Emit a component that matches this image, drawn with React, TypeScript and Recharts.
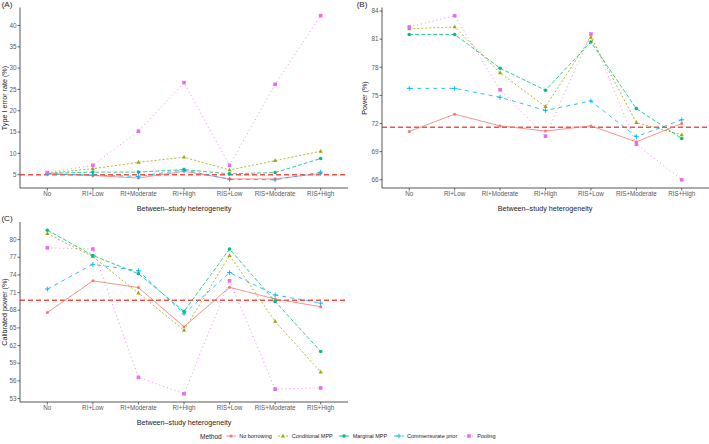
import React from "react";
import { LineChart, Line, XAxis, YAxis, ReferenceLine } from "recharts";

const categories = ["No", "RI+Low", "RI+Moderate", "RI+High", "RIS+Low", "RIS+Moderate", "RIS+High"];

// (A) Type I error rate (%)
const typeINoBorrowing = [5.2, 4.8, 4.2, 5.8, 4.0, 4.0, 5.3];
const typeIConditional = [5.3, 6.4, 7.9, 9.1, 6.1, 8.3, 10.5];
const typeIMarginal = [5.3, 5.6, 5.6, 6.2, 5.2, 5.5, 8.8];
const typeICommensurate = [5.2, 4.9, 4.6, 6.1, 3.9, 3.8, 5.6];
const typeIPooling = [5.5, 7.2, 15.2, 26.6, 7.2, 26.2, 42.3];

// (B) Power (%)
const powerNoBorrowing = [71.15, 73.0, 71.75, 71.2, 71.75, 70.05, 72.0];
const powerConditional = [82.1, 82.3, 77.4, 73.8, 81.2, 72.1, 70.8];
const powerMarginal = [81.5, 81.5, 77.9, 75.55, 80.7, 73.6, 70.4];
const powerCommensurate = [75.75, 75.75, 74.8, 73.4, 74.4, 70.6, 72.4];
const powerPooling = [82.3, 83.5, 75.6, 70.65, 81.55, 69.8, 66.0];

// (C) Calibrated power (%)
const calNoBorrowing = [67.6, 73.0, 71.85, 65.2, 71.9, 69.9, 68.6];
const calConditional = [81.0, 77.1, 70.9, 64.6, 77.3, 66.1, 57.5];
const calMarginal = [81.6, 77.3, 74.2, 67.8, 78.4, 69.5, 61.0];
const calCommensurate = [71.6, 75.8, 74.7, 67.4, 74.4, 70.6, 69.2];
const calPooling = [78.6, 78.4, 56.6, 53.8, 73.0, 54.6, 54.8];

const typeITicks = [5, 10, 15, 20, 25, 30, 35, 40];
const powerTicks = [66, 69, 72, 75, 78, 81, 84];
const calTicks = [53, 56, 59, 62, 65, 68, 71, 74, 77, 80];

const typeIRef = 5;
const powerRef = 71.6;
const calRef = 69.7;

const series = [
  { key: "nb", name: "No borrowing", color: "#F8766D", dash: undefined as string | undefined, shape: "dot" },
  { key: "cmpp", name: "Conditional MPP", color: "#A3A500", dash: "2 2", shape: "triangle" },
  { key: "mmpp", name: "Marginal MPP", color: "#00BF7D", dash: "4 2", shape: "circle" },
  { key: "comm", name: "Commensurate prior", color: "#00B0F6", dash: "4 4", shape: "plus" },
  { key: "pool", name: "Pooling", color: "#E76BF3", dash: "1 3", shape: "square" },
];

function buildRows(values: number[][]) {
  return categories.map((cat, i) => {
    const row: Record<string, string | number> = { cat };
    series.forEach((s, j) => {
      row[s.key] = values[j][i];
    });
    return row;
  });
}

const typeIData = buildRows([typeINoBorrowing, typeIConditional, typeIMarginal, typeICommensurate, typeIPooling]);
const powerData = buildRows([powerNoBorrowing, powerConditional, powerMarginal, powerCommensurate, powerPooling]);
const calData = buildRows([calNoBorrowing, calConditional, calMarginal, calCommensurate, calPooling]);

const FONT = '"Liberation Sans", Arial, sans-serif';

function Marker({ cx, cy, shape, color }: { cx?: number; cy?: number; shape: string; color: string }) {
  if (cx == null || cy == null) return null;
  switch (shape) {
    case "dot":
      return <circle cx={cx} cy={cy} r={1.5} fill={color} />;
    case "triangle":
      return <polygon points={`${cx},${cy - 2.3} ${cx - 2.1},${cy + 1.4} ${cx + 2.1},${cy + 1.4}`} fill={color} />;
    case "circle":
      return <circle cx={cx} cy={cy} r={1.8} fill={color} />;
    case "plus":
      return (
        <g stroke={color} strokeWidth={0.9}>
          <line x1={cx - 2.4} x2={cx + 2.4} y1={cy} y2={cy} />
          <line x1={cx} x2={cx} y1={cy - 2.4} y2={cy + 2.4} />
        </g>
      );
    default:
      return <rect x={cx - 1.8} y={cy - 1.8} width={3.6} height={3.6} fill={color} />;
  }
}

type PanelProps = {
  data: Record<string, string | number>[];
  domain: [number, number];
  ticks: number[];
  refValue: number;
  left: number;
  top: number;
  width: number;
  height: number;
  yWidth: number;
  right: number;
  marginTop: number;
  xHeight: number;
};

function Panel(p: PanelProps) {
  const plotW = p.width - p.yWidth - p.right;
  const pad = plotW / 12;
  return (
    <div style={{ position: "absolute", left: p.left, top: p.top }}>
      <LineChart
        width={p.width}
        height={p.height}
        data={p.data}
        margin={{ top: p.marginTop, right: p.right, left: 0, bottom: 0 }}
      >
        <XAxis
          dataKey="cat"
          interval={0}
          height={p.xHeight}
          padding={{ left: pad, right: pad }}
          tickSize={2.5}
          tickMargin={1}
          stroke="#444"
          axisLine={{ stroke: "#444", strokeWidth: 0.9 }}
          tickLine={{ stroke: "#444", strokeWidth: 0.8 }}
          tick={{ fontSize: 6.3, fill: "#5a5a5a", fontFamily: FONT }}
        />
        <YAxis
          type="number"
          domain={p.domain}
          ticks={p.ticks}
          width={p.yWidth}
          allowDataOverflow
          tickSize={2.5}
          tickMargin={1}
          stroke="#444"
          axisLine={{ stroke: "#444", strokeWidth: 0.9 }}
          tickLine={{ stroke: "#444", strokeWidth: 0.8 }}
          tick={{ fontSize: 6.3, fill: "#5a5a5a", fontFamily: FONT }}
        />
        <ReferenceLine y={p.refValue} stroke="#F2504B" strokeWidth={1.4} strokeDasharray="5 3" />
        {series.map((s) => (
          <Line
            key={s.key}
            dataKey={s.key}
            name={s.name}
            type="linear"
            stroke={s.color}
            strokeWidth={0.8}
            strokeDasharray={s.dash}
            isAnimationActive={false}
            dot={(d: any) => (
              <Marker key={`${s.key}-${d.index}`} cx={d.cx} cy={d.cy} shape={s.shape} color={s.color} />
            )}
            activeDot={false}
          />
        ))}
      </LineChart>
    </div>
  );
}

function Txt({ x, y, children, size = 7.2, rotate = false }: { x: number; y: number; children: React.ReactNode; size?: number; rotate?: boolean }) {
  return (
    <div
      style={{
        position: "absolute",
        left: x,
        top: y,
        transform: `translate(-50%, -50%)${rotate ? " rotate(-90deg)" : ""}`,
        whiteSpace: "nowrap",
        fontSize: size,
        fontFamily: FONT,
        color: "#222",
        lineHeight: 1,
      }}
    >
      {children}
    </div>
  );
}

function LegendKey({ color, dash, shape }: { color: string; dash?: string; shape: string }) {
  return (
    <svg width={10} height={8} style={{ display: "block" }}>
      <line x1={0} x2={10} y1={4} y2={4} stroke={color} strokeWidth={0.8} strokeDasharray={dash} />
      <Marker cx={5} cy={4} shape={shape} color={color} />
    </svg>
  );
}

export default function App() {
  return (
    <div style={{ position: "absolute", left: 0, top: 0, width: 709, height: 444, background: "#fff", overflow: "hidden" }}>
      <Panel data={typeIData} domain={[1.875, 44.225]} ticks={typeITicks} refValue={typeIRef}
        left={0} top={0} width={355} height={215} yWidth={20} right={7} marginTop={7.5} xHeight={27} />
      <Panel data={powerData} domain={[65.125, 84.375]} ticks={powerTicks} refValue={powerRef}
        left={355} top={0} width={354} height={215} yWidth={27} right={0} marginTop={7.5} xHeight={27} />
      <Panel data={calData} domain={[52.41, 82.99]} ticks={calTicks} refValue={calRef}
        left={0} top={214} width={355} height={216} yWidth={20} right={7} marginTop={8} xHeight={28} />

      <Txt x={7} y={5} size={8}>(A)</Txt>
      <Txt x={362} y={5} size={8}>(B)</Txt>
      <Txt x={7} y={219} size={8}>(C)</Txt>

      <Txt x={5} y={98} rotate>Type I error rate (%)</Txt>
      <Txt x={365} y={98} rotate>Power (%)</Txt>
      <Txt x={5} y={312} rotate>Calibrated power (%)</Txt>

      <Txt x={184} y={209}>Between–study heterogeneity</Txt>
      <Txt x={545} y={209}>Between–study heterogeneity</Txt>
      <Txt x={184} y={423}>Between–study heterogeneity</Txt>

      <div
        style={{
          position: "absolute",
          left: 200,
          top: 431,
          height: 10,
          display: "flex",
          alignItems: "center",
          fontFamily: FONT,
          whiteSpace: "nowrap",
          color: "#222",
        }}
      >
        <span style={{ fontSize: 6.5, marginRight: 4 }}>Method</span>
        {series.map((s, i) => (
          <div key={s.key} style={{ display: "flex", alignItems: "center", marginRight: i < series.length - 1 ? 6.4 : 0 }}>
            <LegendKey color={s.color} dash={s.dash} shape={s.shape} />
            <span style={{ fontSize: 5.5, marginLeft: 3.5 }}>{s.name}</span>
          </div>
        ))}
      </div>
    </div>
  );
}
